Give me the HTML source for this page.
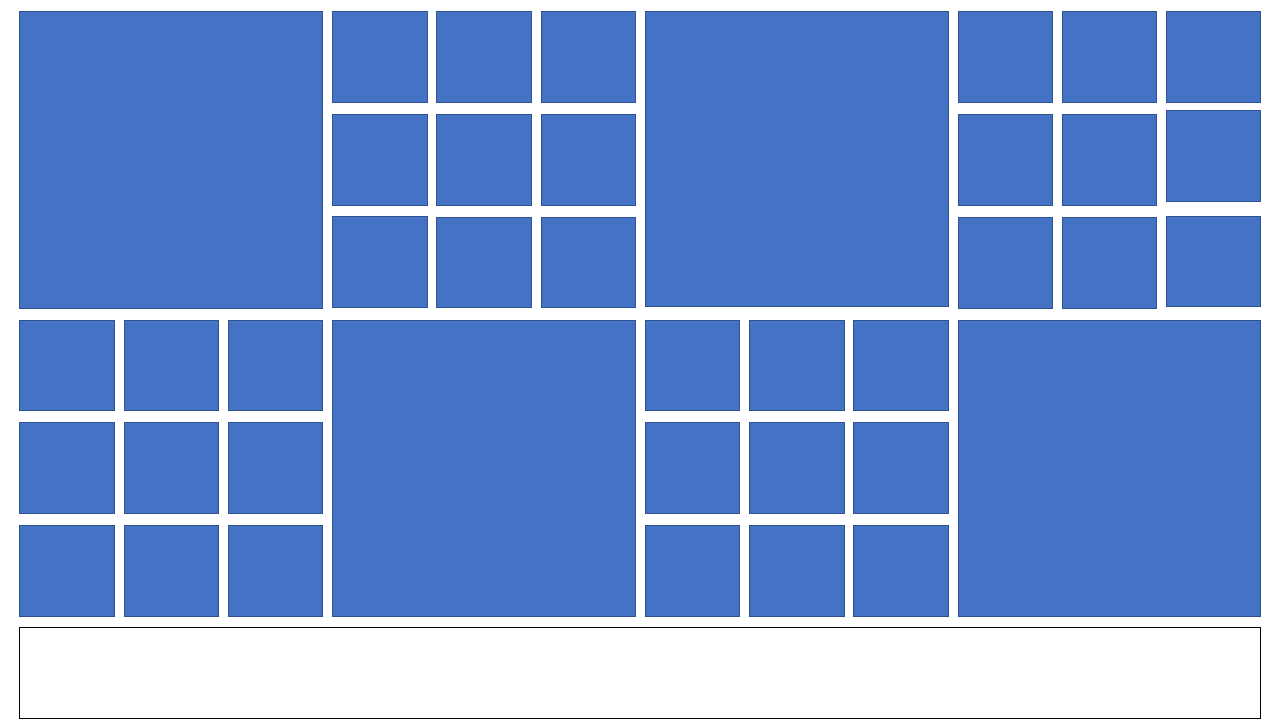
<!DOCTYPE html>
<html>
<head>
<meta charset="utf-8">
<style>
  html,body{margin:0;padding:0;background:#fff;}
  body{width:1280px;height:720px;position:relative;overflow:hidden;font-family:"Liberation Sans",sans-serif;}
  .t{position:absolute;box-sizing:border-box;background:#4472C4;border:1px solid #2F528F;}
  .box{position:absolute;box-sizing:border-box;background:#fff;border:1px solid #000;}
</style>
</head>
<body>
<div class="box" style="left:19px;top:627px;width:1242px;height:92px;"></div>
<script>
// Layout tiles: [left, top, right, bottom]
const bigTiles = [
  [19,11,323,309],
  [645,11,949,307],
  [332,320,636,617],
  [958,320,1261,617]
];
const gridTiles = [
  // block top 2
  [332,11,428,103],[436,11,532,103],[541,11,636,103],
  [332,114,428,206],[436,114,532,206],[541,114,636,206],
  [332,216,428,308],[436,217,532,308],[541,217,636,308],
  // block top 4
  [958,11,1053,103],[1062,11,1157,103],[1166,11,1261,103],
  [958,114,1053,206],[1062,114,1157,206],[1166,110,1261,202],
  [958,217,1053,309],[1062,217,1157,309],[1166,216,1261,307],
  // block bottom 1
  [19,320,115,411],[124,320,219,411],[228,320,323,411],
  [19,422,115,514],[124,422,219,514],[228,422,323,514],
  [19,525,115,617],[124,525,219,617],[228,525,323,617],
  // block bottom 3
  [645,320,740,411],[749,320,845,411],[853,320,949,411],
  [645,422,740,514],[749,422,845,514],[853,422,949,514],
  [645,525,740,617],[749,525,845,617],[853,525,949,617]
];
function addTile(r){
  const el=document.createElement('div');
  el.className='t';
  el.style.left=r[0]+'px';el.style.top=r[1]+'px';
  el.style.width=(r[2]-r[0])+'px';el.style.height=(r[3]-r[1])+'px';
  document.body.appendChild(el);
  return el;
}
bigTiles.forEach(r=>{
  const el=addTile(r);
  
  
});
gridTiles.forEach(r=>{
  const el=addTile(r);
  
  
});
</script>
</body>
</html>
